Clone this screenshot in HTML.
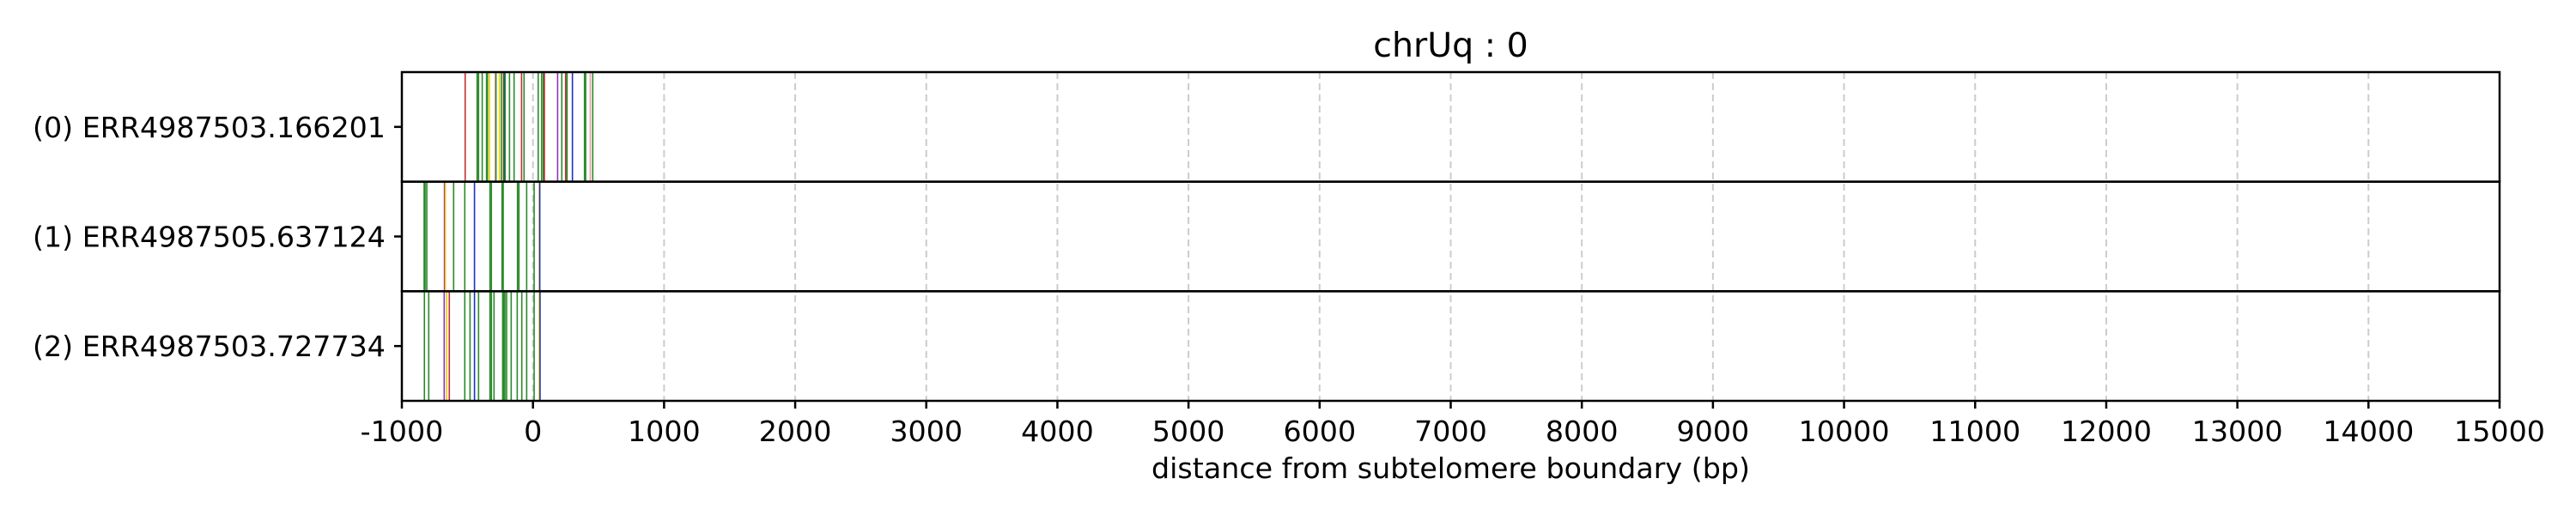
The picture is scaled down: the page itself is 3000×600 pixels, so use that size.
<!DOCTYPE html>
<html><head><meta charset="utf-8"><style>
html,body{margin:0;padding:0;background:#fff;}
svg{display:block;font-family:"DejaVu Sans","Liberation Sans",sans-serif;}
</style></head><body>
<svg id="chart" width="3000" height="600" viewBox="0 0 3000 600" xmlns="http://www.w3.org/2000/svg"></svg>
<script>
const xTicks = [-1000,0,1000,2000,3000,4000,5000,6000,7000,8000,9000,10000,11000,12000,13000,14000,15000];
const rowLabels = ["(0) ERR4987503.166201","(1) ERR4987505.637124","(2) ERR4987503.727734"];
const row0Pos = [-517,-426,-415,-387,-354,-347,-332,-288,-282,-256,-240,-227,-221,-212,-179,-144,-87,-68,40,66,79,87,188,220,249,260,301,393,402,437,456];
const row0Col = ["r","g","g","g","g","g","y","p","g","y","g","y","b","g","g","g","r","g","g","g","g","r","v","g","r","g","b","g","g","p","g"];
const row1Pos = [-830,-823,-810,-675,-668,-605,-520,-446,-328,-317,-236,-227,-118,-107,-48,9,48,52];
const row1Col = ["g","g","g","v","y","g","g","b","g","g","g","g","g","g","g","g","y","b"];
const row2Pos = [-828,-795,-677,-659,-638,-520,-480,-446,-415,-328,-317,-297,-231,-223,-214,-201,-166,-120,-85,-48,9,48,54];
const row2Col = ["g","g","v","y","r","g","g","b","g","g","g","g","g","g","g","g","g","g","g","g","g","y","b"];
const rowsPos = [row0Pos,row1Pos,row2Pos];
const rowsCol = [row0Col,row1Col,row2Col];
const colorMap = {g:"#2a8a2a",r:"#c03030",y:"#f0d000",p:"#f0a0a0",b:"#2030c0",v:"#9030c0"};

const L=468,R=2911,T=84,B=467,xMin=-1000,xMax=15000;
const X=v=>L+(v-xMin)/(xMax-xMin)*(R-L);
const rowH=(B-T)/3;
const svg=document.getElementById('chart');
const NS="http://www.w3.org/2000/svg";
function mk(tag,attrs,parent){const e=document.createElementNS(NS,tag);for(const k in attrs)e.setAttribute(k,attrs[k]);(parent||svg).appendChild(e);return e;}

xTicks.forEach(t=>{
  const g=mk('line',{x1:X(t),x2:X(t),y1:T,y2:B,stroke:"#cccccc","stroke-width":2,"stroke-dasharray":"8,5"});
  
  
});
rowsPos.forEach((arr,r)=>{
  arr.forEach((v,i)=>{
    const l=mk('line',{x1:X(v),x2:X(v),y1:T+r*rowH,y2:T+(r+1)*rowH,stroke:colorMap[rowsCol[r][i]],"stroke-width":1.6});
    
    
  });
});
for(let r=0;r<3;r++){
  const f=mk('rect',{x:L,y:T+r*rowH,width:R-L,height:rowH,fill:"none",stroke:"#000","stroke-width":2.5});
  
  
  const tk=mk('line',{x1:L-9,x2:L,y1:T+(r+0.5)*rowH,y2:T+(r+0.5)*rowH,stroke:"#000","stroke-width":2.5});
  
  
  const lb=mk('text',{x:449,y:T+(r+0.5)*rowH+12,"text-anchor":"end","font-size":33.3,fill:"#000"});
  lb.textContent=rowLabels[r];
  
  
}
xTicks.forEach(t=>{
  const tk=mk('line',{x1:X(t),x2:X(t),y1:B,y2:B+9,stroke:"#000","stroke-width":2.5});
  
  
  const tl=mk('text',{x:X(t),y:B+47,"text-anchor":"middle","font-size":33.3,fill:"#000"});
  tl.textContent=String(t);
  
  
});
const xt=mk('text',{x:(L+R)/2,y:557,"text-anchor":"middle","font-size":33.3,fill:"#000"});
xt.textContent="distance from subtelomere boundary (bp)";


const tt=mk('text',{x:(L+R)/2,y:66,"text-anchor":"middle","font-size":39.5,fill:"#000"});
tt.textContent="chrUq : 0";


</script>
</body></html>
